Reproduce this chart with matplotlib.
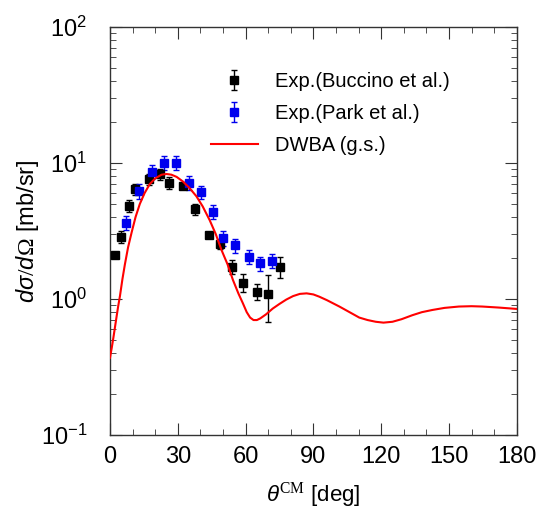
import numpy as np
import matplotlib
matplotlib.use('Agg')
import matplotlib.pyplot as plt

plt.rcParams['font.family'] = ['Liberation Sans', 'DejaVu Sans']
plt.rcParams['mathtext.fontset'] = 'custom'
plt.rcParams['mathtext.rm'] = 'Liberation Serif'
plt.rcParams['mathtext.it'] = 'Liberation Sans:italic'
plt.rcParams['mathtext.default'] = 'it'

# Exp. (Buccino et al.)
buccinoTheta = [2.2, 4.9, 8.4, 11.0, 17.2, 22.2, 26.3, 32.2, 37.6, 44.0, 48.8, 54.0, 58.8, 65.1, 70.1, 75.4]
buccinoXs = [2.1, 2.87, 4.85, 6.4, 7.6, 8.3, 7.17, 6.78, 4.57, 2.97, 2.54, 1.72, 1.32, 1.13, 1.09, 1.72]
buccinoErr = [0.08, 0.3, 0.5, 0.55, 0.7, 0.8, 0.75, 0.35, 0.45, 0.1, 0.2, 0.2, 0.2, 0.15, 0.41, 0.3]

# Exp. (Park et al.)
parkTheta = [7.1, 12.8, 18.5, 24.1, 29.0, 35.0, 40.4, 45.6, 50.0, 55.4, 61.6, 66.3, 71.6]
parkXs = [3.64, 6.22, 8.63, 10.05, 10.05, 7.17, 6.09, 4.38, 2.81, 2.48, 2.05, 1.83, 1.91]
parkErr = [0.45, 0.75, 1.0, 1.2, 1.2, 0.85, 0.7, 0.5, 0.35, 0.3, 0.25, 0.22, 0.23]

# DWBA (g.s.)
dwbaTheta = [0, 0.8, 1.5, 2.2, 2.9, 3.6, 4.4, 5.5, 6.6, 8.0, 9.6, 11.3, 13.2, 15.3, 17.6,
             20.0, 22.8, 25.0, 27.2, 29.5, 32.3, 35.0, 38.2, 41.0, 44.1, 46.8, 49.3, 52.0,
             54.4, 56.8, 58.8, 60.5, 62.0, 63.5, 65.0, 66.5, 69.0, 72.0, 75.0, 78.0, 81.0,
             84.0, 87.0, 90.0, 92.6, 96.0, 101.5, 106.0, 110.3, 114.0, 117.6, 121.0, 125.0,
             129.0, 133.8, 138.0, 142.6, 148.0, 154.4, 160.0, 164.7, 172.0, 180.0]
dwbaXs = [0.37, 0.44, 0.52, 0.62, 0.74, 0.88, 1.05, 1.4, 1.8, 2.4, 3.1, 4.0, 5.0, 6.0, 7.0,
          7.7, 8.2, 8.3, 8.2, 7.9, 7.3, 6.6, 5.7, 4.8, 3.8, 3.0, 2.3, 1.8,
          1.38, 1.1, 0.93, 0.8, 0.73, 0.70, 0.70, 0.72, 0.77, 0.85, 0.92, 0.99, 1.05,
          1.09, 1.1, 1.08, 1.04, 0.98, 0.88, 0.80, 0.73, 0.70, 0.68, 0.67, 0.68,
          0.71, 0.76, 0.80, 0.83, 0.86, 0.88, 0.885, 0.88, 0.865, 0.845]

fig = plt.figure(figsize=(5.4, 5.09), dpi=100)
ax = fig.add_axes([0.2037, 0.1454, 0.7533, 0.8016])

hB = ax.errorbar(buccinoTheta, buccinoXs, yerr=buccinoErr, fmt='s', color='black', ms=5.5,
                 capsize=2.5, elinewidth=1, capthick=1, zorder=3)
hP = ax.errorbar(parkTheta, parkXs, yerr=parkErr, fmt='s', color='#0000ee', ms=5.5,
                 capsize=2.5, elinewidth=1, capthick=1, zorder=3)
hD, = ax.plot(dwbaTheta, dwbaXs, color='#ff0000', lw=1.5, zorder=4)

ax.set_yscale('log')
ax.set_xlim(0, 180)
ax.set_ylim(0.1, 100)
ax.set_xticks(np.arange(0, 181, 30))
ax.set_xticks(np.arange(0, 181, 10), minor=True)

ax.tick_params(which='both', direction='in', top=True, right=True, labelsize=17, color='#333333')
ax.tick_params(axis='x', which='major', length=8.5, pad=8)
ax.tick_params(axis='x', which='minor', length=4.3)
ax.tick_params(axis='y', which='major', length=8.5, pad=16.5)
ax.tick_params(axis='y', which='minor', length=4.3)
for spine in ax.spines.values():
    spine.set_color('#333333')
    spine.set_linewidth(1.0)

ax.set_xlabel(r'$\theta^{\mathrm{CM}}$ [deg]', fontsize=16)
ax.set_ylabel(r'$d\sigma/d\Omega$ [mb/sr]', fontsize=17)
ax.xaxis.label.set_va('center')
ax.yaxis.label.set_va('center')
ax.xaxis.set_label_coords(0.5, -0.147)
ax.yaxis.set_label_coords(-0.203, 0.5)

leg = ax.legend([hB, hP, hD], ['Exp.(Buccino et al.)', 'Exp.(Park et al.)', 'DWBA (g.s.)'],
                loc='upper left', bbox_to_anchor=(0.248, 0.89), frameon=False, fontsize=14.5,
                handlelength=2.34, handletextpad=0.85, labelspacing=0.65, borderpad=0,
                borderaxespad=0)

plt.savefig('out.png', dpi=100)
